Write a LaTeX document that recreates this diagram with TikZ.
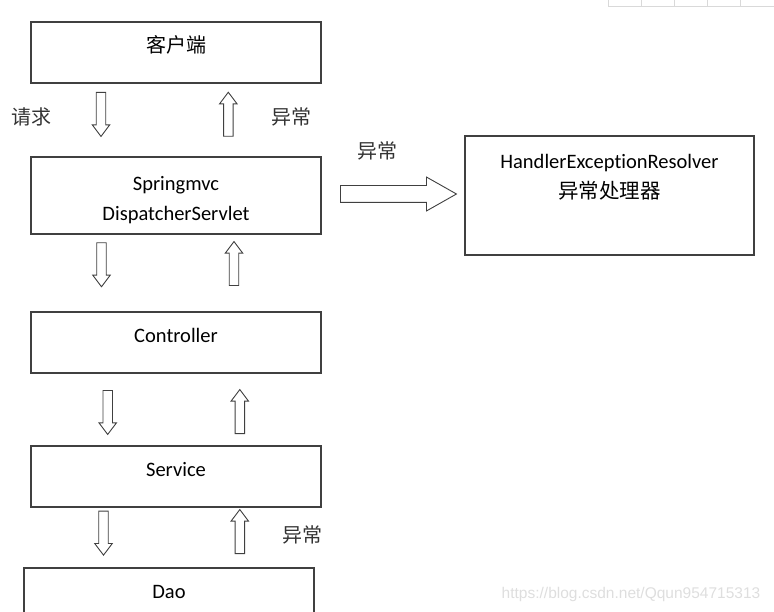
\documentclass[tikz,border=0pt]{standalone}
\usepackage{fontspec}
\setmainfont{Carlito}[RawFeature={-liga;-clig;-calt;-dlig}]
\newfontfamily\cjk{Noto Sans CJK SC}
\newfontfamily\wmfont{Liberation Sans}
\usetikzlibrary{shapes.arrows}

\tikzset{
    box/.style={draw=black!75, line width=1.2pt, minimum width=290pt, minimum height=61pt,
        inner sep=0pt, font=\fontsize{20.5}{30}\selectfont},
    oneline/.style={text height=10pt, text depth=10pt},
    barrow/.style={single arrow, draw=black!75, line width=0.9pt, fill=white,
        inner xsep=0pt, inner ysep=4.3pt, single arrow head extend=4pt,
        single arrow tip angle=74, minimum height=44pt, anchor=tail},
    bigarrow/.style={barrow, inner ysep=8pt, single arrow head extend=8.5pt,
        single arrow tip angle=59, minimum height=116pt},
    note/.style={font=\cjk\fontsize{20}{24}\selectfont, text=black!80, inner sep=0pt},
}

\begin{document}
\begin{tikzpicture}[x=1pt, y=-1pt]
    \useasboundingbox (0,0) rectangle (774,612);
    \clip (0,0) rectangle (774,612);

    % layers
    \node[box, oneline, font=\cjk\fontsize{20}{24}\selectfont] (client) at (176,52.5) {客户端};
    \node[box, minimum height=77pt] (dispatcher) at (176,195.5) {};
    \node[font=\fontsize{20.5}{30}\selectfont, align=center] (dispatchertext) at (176,200) {Springmvc\\DispatcherServlet};
    \node[box, oneline] (controller) at (176,342.5) {Controller};
    \node[box, oneline] (service) at (176,476.5) {Service};
    \node[box, oneline] (dao) at (169,598.5) {Dao};

    \node[box, minimum width=289pt, minimum height=119pt] (handler) at (609.5,195.5) {};
    \node[font=\fontsize{20.5}{30}\selectfont, align=center] (handlertext) at (609.5,177)
        {HandlerExceptionResolver\\{\cjk 异常处理器}};

    % block arrows
    \node[barrow, rotate=-90] (req1) at (101,92) {};
    \node[barrow, rotate=90] (err1) at (228.3,136.7) {};
    \node[barrow, rotate=-90] (req2) at (101.5,242.3) {};
    \node[barrow, rotate=90] (err2) at (234,286) {};
    \node[barrow, rotate=-90] (req3) at (107.7,390) {};
    \node[barrow, rotate=90] (err3) at (239.8,434) {};
    \node[barrow, rotate=-90] (req4) at (103.5,510.7) {};
    \node[barrow, rotate=90] (err4) at (239.8,554) {};
    \node[bigarrow] (toresolver) at (340,194) {};

    % labels
    \node[note] (reqlabel) at (31,117) {请求};
    \node[note] (errlabel1) at (291,117) {异常};
    \node[note] (errlabel2) at (377,151) {异常};
    \node[note] (errlabel3) at (302,535) {异常};

    % leftovers from the screenshot
    \draw[black!15, line width=0.8pt] (608.3,0) -- (608.3,6) -- (774,6);
    \foreach \x in {641.7,674.3,707.7,740.7}
        \draw[black!15, line width=0.8pt] (\x,0) -- (\x,6);
    \node[font=\wmfont\fontsize{15.5}{18}\selectfont, text=black!13] (watermark) at (631,594)
        {https://blog.csdn.net/Qqun954715313};
\end{tikzpicture}
\end{document}
